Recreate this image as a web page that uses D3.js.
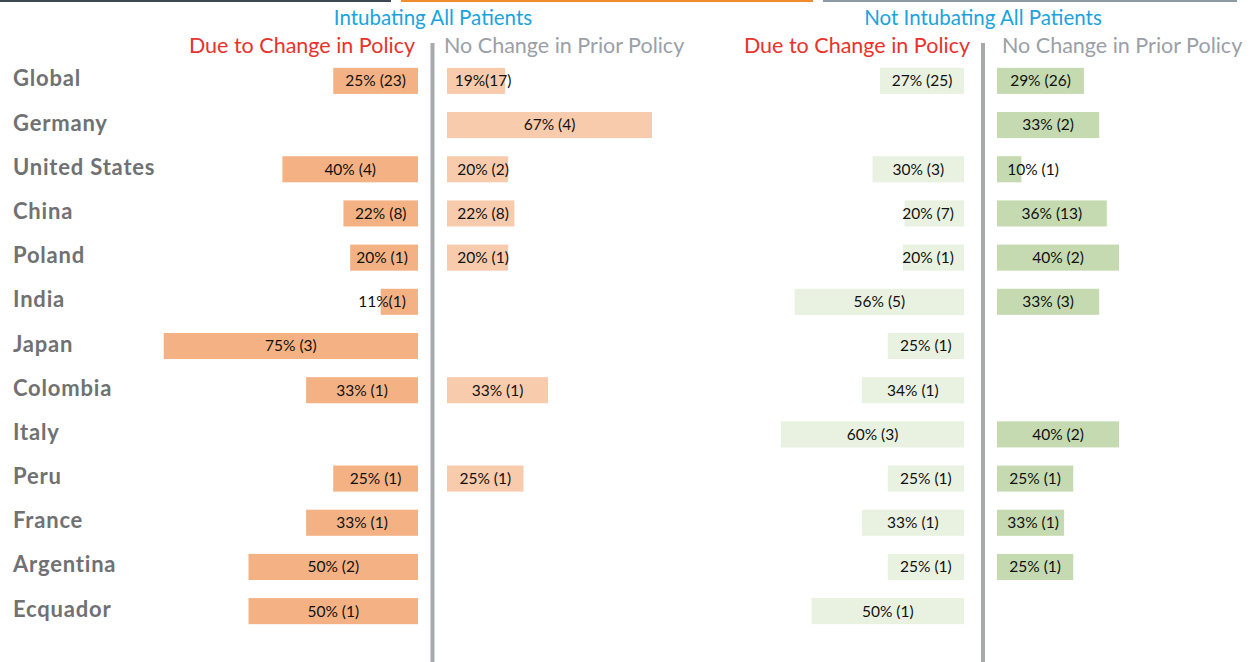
<!DOCTYPE html>
<html>
<head>
<meta charset="utf-8">
<script src="https://cdn.jsdelivr.net/npm/d3@7/dist/d3.min.js"></script>
<style>
  html, body { margin: 0; padding: 0; background: #fff; }
  svg text { font-family: "Lato", "Open Sans", sans-serif; }
</style>
</head>
<body>
<div id="chart"></div>
<script>
const categories = ['Global', 'Germany', 'United States', 'China', 'Poland', 'India', 'Japan',
  'Colombia', 'Italy', 'Peru', 'France', 'Argentina', 'Ecquador'];

// Intubating all patients
const intubChangeValues = [25, null, 40, 22, 20, 11, 75, 33, null, 25, 33, 50, 50];
const intubChangeLabels = ['25% (23)', '', '40% (4)', '22% (8)', '20% (1)', '11%(1)', '75% (3)',
  '33% (1)', '', '25% (1)', '33% (1)', '50% (2)', '50% (1)'];
const intubNoChangeValues = [19, 67, 20, 22, 20, null, null, 33, null, 25, null, null, null];
const intubNoChangeLabels = ['19%(17)', '67% (4)', '20% (2)', '22% (8)', '20% (1)', '', '',
  '33% (1)', '', '25% (1)', '', '', ''];

// Not intubating all patients
const notChangeValues = [27.5, null, 30, 19.5, 20, 55.5, 25, 33.5, 60, 25, 33.5, 25, 50];
const notChangeLabels = ['27% (25)', '', '30% (3)', '20% (7)', '20% (1)', '56% (5)', '25% (1)',
  '34% (1)', '60% (3)', '25% (1)', '33% (1)', '25% (1)', '50% (1)'];
const notNoChangeValues = [28.5, 33.5, 8, 36, 40, 33.5, null, null, 40, 25, 22, 25, null];
const notNoChangeLabels = ['29% (26)', '33% (2)', '10% (1)', '36% (13)', '40% (2)', '33% (3)', '',
  '', '40% (2)', '25% (1)', '33% (1)', '25% (1)', ''];

const width = 1256, height = 662;

const svg = d3.select('#chart').append('svg')
  .attr('width', width)
  .attr('height', height);

// decorative rules at the very top
const topRules = [
  {x0: 0, x1: 391, color: '#3b4954'},
  {x0: 401, x1: 813, color: '#f08c2e'},
  {x0: 823, x1: 1237, color: '#8f9ba4'}
];
svg.selectAll('.toprule')
  .data(topRules)
  .enter().append('rect')
  .attr('class', 'toprule')
  .attr('x', d => d.x0)
  .attr('y', 0)
  .attr('width', d => d.x1 - d.x0)
  .attr('height', 2)
  .attr('fill', d => d.color);

let y = d3.scaleBand()
  .domain(categories)
  .range([59, 633])
  .paddingInner(0.41)
  .paddingOuter(0.2);

// category names
svg.selectAll('.cat')
  .data(categories)
  .enter().append('text')
  .attr('class', 'cat')
  .attr('x', 13)
  .attr('y', d => y(d) + y.bandwidth() / 2)
  .attr('dy', '0.25em')
  .attr('font-size', 22)
  .attr('font-weight', 'bold')
  .attr('letter-spacing', 0.8)
  .attr('fill', '#707173')
  .text(d => d);

// panels: dir -1 grows to the left of base, +1 to the right
const panels = [
  {values: intubChangeValues, labels: intubChangeLabels, base: 418, dir: -1, span: 339, color: '#f4b183'},
  {values: intubNoChangeValues, labels: intubNoChangeLabels, base: 447, dir: 1, span: 306, color: '#f8cbad'},
  {values: notChangeValues, labels: notChangeLabels, base: 964, dir: -1, span: 305, color: '#e9f1e1'},
  {values: notNoChangeValues, labels: notNoChangeLabels, base: 997, dir: 1, span: 305, color: '#c5dab0'}
];

const minBox = 72;

panels.forEach(function(p) {
  let x = d3.scaleLinear().domain([0, 100])
    .range(p.dir < 0 ? [p.base, p.base - p.span] : [p.base, p.base + p.span]);

  let rows = categories.map((c, i) => ({cat: c, value: p.values[i], label: p.labels[i]}))
    .filter(d => d.value != null);

  let g = svg.append('g');

  g.selectAll('rect')
    .data(rows)
    .enter().append('rect')
    .attr('x', d => Math.min(x(0), x(d.value)))
    .attr('y', d => y(d.cat))
    .attr('width', d => Math.abs(x(d.value) - x(0)))
    .attr('height', y.bandwidth())
    .attr('fill', p.color);

  g.selectAll('text')
    .data(rows)
    .enter().append('text')
    .attr('x', function(d) {
      let w = Math.max(Math.abs(x(d.value) - x(0)), minBox);
      return x(0) + p.dir * w / 2;
    })
    .attr('y', d => y(d.cat) + y.bandwidth() / 2)
    .attr('dy', '0.35em')
    .attr('text-anchor', 'middle')
    .attr('font-size', 15.5)
    .attr('fill', '#111')
    .text(d => d.label);
});

// divider lines
[432.5, 983].forEach(function(xd) {
  svg.append('rect')
    .attr('x', xd - 2)
    .attr('y', 43)
    .attr('width', 4)
    .attr('height', height - 43)
    .attr('fill', '#a7a9ac');
});

// headers
const groupTitles = [
  {text: 'Intubating All Patients', x: 433},
  {text: 'Not Intubating All Patients', x: 983}
];
svg.selectAll('.gtitle')
  .data(groupTitles)
  .enter().append('text')
  .attr('class', 'gtitle')
  .attr('x', d => d.x)
  .attr('y', 25)
  .attr('text-anchor', 'middle')
  .attr('font-size', 20.5)
  .attr('fill', '#1ba3dd')
  .text(d => d.text);

const subTitles = [
  {text: 'Due to Change in Policy', x: 415, anchor: 'end', color: '#e8322b'},
  {text: 'No Change in Prior Policy', x: 444, anchor: 'start', color: '#9aa0a7'},
  {text: 'Due to Change in Policy', x: 970, anchor: 'end', color: '#e8322b'},
  {text: 'No Change in Prior Policy', x: 1002, anchor: 'start', color: '#9aa0a7'}
];
svg.selectAll('.stitle')
  .data(subTitles)
  .enter().append('text')
  .attr('class', 'stitle')
  .attr('x', d => d.x)
  .attr('y', 53)
  .attr('text-anchor', d => d.anchor)
  .attr('font-size', 21.5)
  .attr('fill', d => d.color)
  .text(d => d.text);
</script>
</body>
</html>
